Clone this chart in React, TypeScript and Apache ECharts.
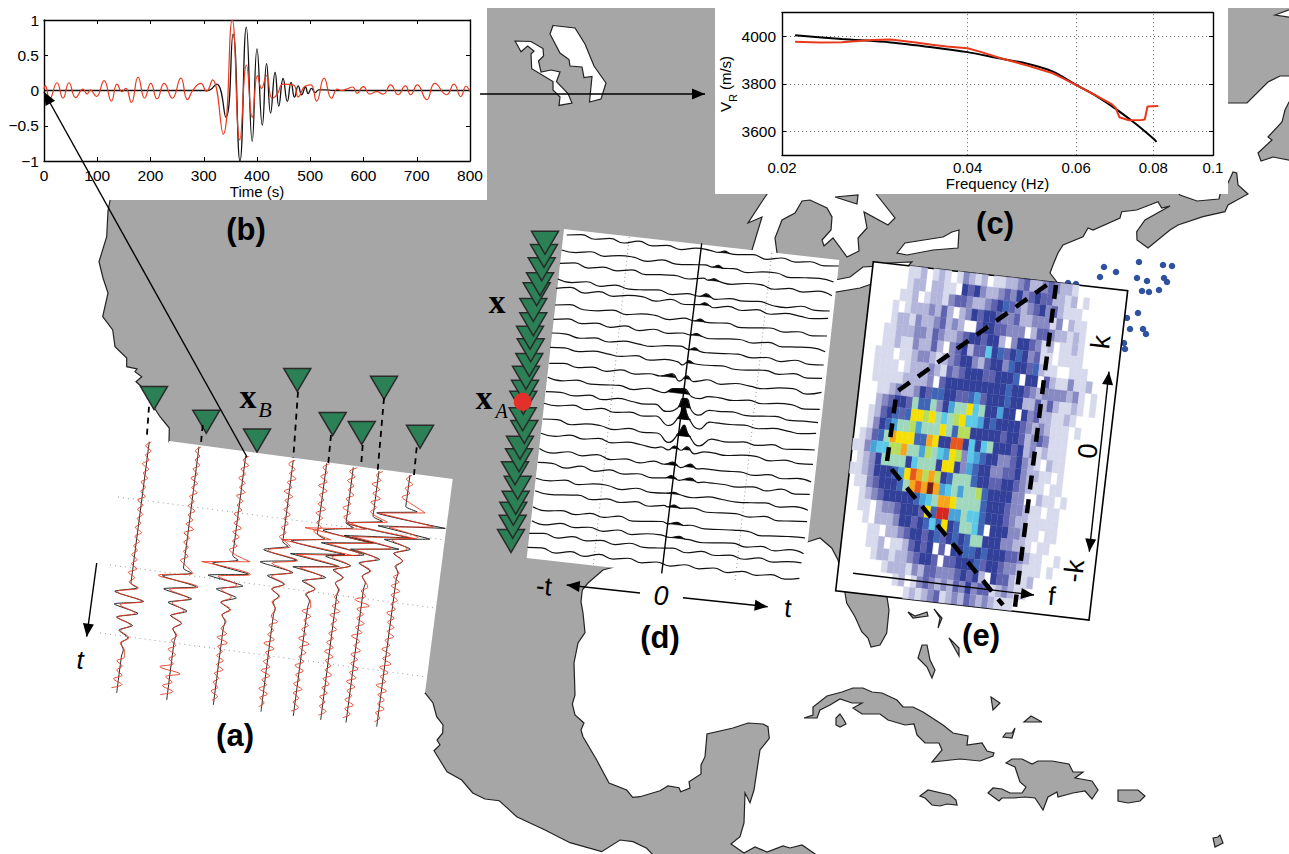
import React, { useEffect, useRef } from "react";
import * as echarts from "echarts";

/* ---------- panel (b): time series, [time s, amplitude] ---------- */
const redWave = [[0,0.02],[2.5,0.07],[10.6,-0.12],[24.4,0.11],[35.7,-0.11],[47,0.11],[59.5,-0.1],[73.3,0.02],[80.8,-0.05],[87,0.01],[98.4,-0.085],[112.8,0.14],[126.6,-0.15],[137.2,0.09],[146.6,-0.015],[153.5,0.03],[164,-0.17],[176.7,0.19],[189,-0.11],[200.5,0.1],[212.4,-0.12],[225.6,0.1],[241,-0.11],[257,0.175],[269.4,-0.13],[280,0.01],[294.5,0.1],[305,-0.01],[316.4,0.15],[336.5,-0.62],[353.4,1.0],[367.8,-0.7],[380.3,0.36],[391,-0.38],[401,0.21],[408.5,0.03],[418,0.21],[428.6,-0.11],[438,-0.05],[449,0.09],[468,0.08],[477.4,-0.09],[490,0.06],[501,0.08],[512,-0.15],[526,0.175],[540,-0.11],[551,0.02],[559,0],[568,0.02],[579.6,0.05],[588,-0.04],[599.6,0.055],[612,-0.05],[624.7,-0.015],[637,-0.05],[651,0.08],[665,-0.06],[678.6,0.065],[688.6,-0.06],[701,0.08],[718.7,-0.13],[734,0.1],[756,-0.06],[770,0.09],[782.6,-0.085],[792.6,0.06],[800,-0.015]];
const blackWave = [[0,0],[150,0],[300,0],[308,0],[324,0.09],[341.5,-0.38],[355,0.8],[368,-1],[380,0.9],[391,-0.72],[400,0.59],[410,-0.49],[418,0.38],[425.5,-0.32],[434,0.255],[441,-0.22],[449,0.17],[457,-0.155],[464,0.115],[470.5,-0.095],[477.4,0.065],[484,-0.06],[491,0.05],[496,-0.045],[502.5,0.03],[509,-0.03],[516,0.01],[528,0.01],[545,0],[650,0],[800,0]];

/* ---------- panel (c): dispersion curves, [frequency Hz, velocity m/s] ---------- */
const blackDispersion = [[0.021,4005],[0.025,3989],[0.03,3975],[0.035,3955],[0.04,3934],[0.045,3908],[0.05,3885],[0.055,3852],[0.06,3796],[0.065,3746],[0.07,3690],[0.075,3631],[0.08,3570],[0.081,3556]];
const redDispersion = [[0.021,3978],[0.023,3975],[0.025,3976],[0.028,3985],[0.03,3987],[0.033,3975],[0.035,3965],[0.037,3958],[0.04,3950],[0.042,3935],[0.045,3910],[0.05,3878],[0.055,3845],[0.058,3815],[0.06,3795],[0.065,3748],[0.0685,3715],[0.0695,3700],[0.0705,3660],[0.073,3647],[0.0765,3648],[0.0775,3650],[0.0783,3705],[0.0815,3707]];
const freqTicks = [0.02, 0.04, 0.06, 0.08, 0.1];
const velocityTicks = [3600, 3800, 4000];

/* ---------- panel (a): eight stations ---------- */
const aTops = [[149.3,441.7],[199,446.7],[245.7,456],[293.3,460],[326.7,463.3],[353.3,467.3],[379,471],[410,475]];
const aBottoms = [[116.7,693],[166.7,700],[213.3,705],[261,711.7],[293.3,716],[320.7,720],[346,722.7],[376.7,726.7]];
const aOnsets = [0.563,0.48,0.4,0.325,0.28,0.22,0.18,0.125];
const aPacketTimes = [0.015,0.04,0.065,0.09,0.115,0.14,0.165,0.19,0.215,0.24,0.265];
const aBlackPackets = [
  [7,-15,15,-14,11,-10,7,-6,4,-2,1],
  [9,-20,15,-17,12,-11,9,-7,5,-3,1],
  [6,-19,18,-22,14,-12,9,-6,4,-3,1],
  [6,-18,16,-20,14,-11,7,-5,3,-2,1],
  [8,-25,30,-24,26,-20,14,-9,5,-3,1],
  [8,-22,28,-22,22,-16,10,-7,4,-3,1],
  [10,-25,40,-26,30,-18,12,-8,4,-3,1],
  [12,-28,42,-25,28,-17,10,-6,4,-2,1],
];
const aRedPackets = [
  [8,-13,14,-8,8,-9,5,-4,5,-3,2],
  [10,-24,17,-11,9,-7,6,-6,5,-3,2],
  [18,-30,20,-12,8,-7,4,-5,5,-3,2],
  [8,-14,17,-8,12,-7,7,-5,4,-3,1],
  [14,-35,38,-18,25,-13,10,-6,5,-4,2],
  [20,-40,30,-16,18,-10,9,-5,4,-3,2],
  [15,-25,45,-18,22,-12,9,-6,5,-3,2],
  [20,-26,30,-14,16,-9,7,-5,4,-3,2],
];
const aRedNoise = [
  [2,-3,3,-2,2,-4,3,-2,3,-3,2,-2,3,-4,2,-3,3,-2,2,-3,4,-2,3,-2,2,-3,3,-2,4,-4,3,-2,3,-4,2,-3,3,-5,4,-6],
  [2,-3,2,-2,3,-3,2,-4,3,-2,4,-3,2,-3,4,-2,3,-3,5,-4,2,-3,2,-2,3,-4,2,-3,2,-5,3,-3,2,-11,10,-4,3,-6,5,-7],
  [3,-2,4,-3,2,-4,3,-2,4,-4,3,-2,3,-4,2,-3,5,-3,4,-2,3,-4,3,-2,4,-5,6,-3,2,-3,4,-2,5,-3,2,-3,2,-4,3,-2],
  [2,-4,3,-2,5,-3,2,-5,4,-3,2,-3,4,-2,3,-3,2,-4,3,-2,5,-3,2,-3,4,-6,5,-3,2,-4,3,-5,4,-3,2,-5,4,-3,2,-3],
  [3,-3,2,-4,3,-5,4,-3,2,-3,5,-4,3,-2,3,-4,3,-5,4,-2,3,-3,2,-5,6,-3,4,-2,3,-5,4,-3,2,-4,5,-3,3,-2,4,-3],
  [4,-3,3,-4,3,-2,4,-3,2,-5,3,-3,4,-2,3,-3,5,-4,3,-2,4,-3,2,-4,3,-5,4,-3,3,-2,5,-3,4,-3,3,-4,2,-3,4,-3],
  [4,-2,3,-5,3,-3,5,-4,2,-3,4,-2,3,-7,8,-4,3,-3,5,-3,4,-6,3,-2,5,-4,3,-3,5,-3,4,-5,4,-3,2,-4,5,-3,3,-4],
  [2,-3,4,-3,2,-5,3,-3,3,-4,5,-3,4,-2,3,-5,3,-3,4,-2,5,-3,2,-5,4,-3,6,-5,4,-3,3,-6,5,-3,4,-2,5,-3,2,-3],
];
const aTriangles = [[154,398],[206.3,421.7],[257,440.5],[297.3,380],[332.7,424],[361.7,433],[384,387.7],[420,436.7]];
const aDashes = [[[149,406.7],[146.7,438]],[[202.7,425],[200.7,446]],[[298,391.7],[293.3,458]],[[331,435],[328.3,463]],[[362.7,445],[361,466.7]],[[384,398],[377.7,470]],[[416.7,447.3],[414,475]]];
const aDotted = [[[118,497],[445,540]],[[110,565],[435,608]],[[100,633],[427,677]]];

/* ---------- panel (d): virtual-source gather ---------- */
const dStartX = [566.7,561.7,560,557.7,556,555,553.3,551.7,550,549.3,547.7,546,544,542.7,541,539.3,537.7,536,535,532.7,531.7,529.3,527.3];
const dStartY = [235,250,263.3,280,288.3,305,319.3,334,347.3,363.3,378.3,391.7,403.3,420,433.3,450,463.3,478.3,491.7,508.3,521.7,533.3,548.3];
const dNoise = [
  [0,2,-1,1.5,-1.5,2,-1,1,-1.5,1.5,1,-1,0,1.5,-1.5,1.5,-1,1,-1.5,0],
  [0,-1,1.5,-1.5,1,1,-1.5,1.5,-1,0,1.5,-1,1,-1.5,1,1.5,-1.5,0,1,-1],
  [0,2,-1.5,1,-1,1.5,-1.5,0,1,-1,1.5,0,-1.5,1,1.5,-1.5,1,-1,1.5,-1.5],
  [1,-1,1.5,-1.5,1.5,-1,0,1.5,-1.5,1,1,-1.5,1,0,1.5,-1,-1.5,1.5,-1,0],
  [0,2.5,-1.5,1.5,-1.5,1,1.5,-1.5,2,-1.5,1,-1.5,1.5,-1,1.5,-1.5,1,0,-1,1],
  [0,2,-1.5,-1,1.5,-1.5,1,1,-1.5,1.5,-1,0,1.5,-1.5,0,1.5,-1,1,-1.5,0],
  [0,2,-1,1,-1.5,1.5,-1.5,1.5,-1,1,2,-1.5,0,1,-1,1.5,-1.5,0,1,-1.5],
  [1,1.5,-1,1,-1.5,1,0,-1,1.5,2.5,-2,-1,0,1,-1,1,-1.5,1.5,-1,0],
  [0,1,-1,1,0,-1,1.5,-1.5,1,0,-1.5,0,1,-1,0,1.5,-1,1.5,-1.5,0],
  [0,1.5,-1,1,-1.5,1.5,-1,1,0,-1.5,1,1.5,-1.5,1,0,-1,1.5,2.5,-1.5,2],
  [1,-1,1.5,-1,0,1,-1.5,1.5,-1,1,-1.5,1.5,0,-1,1,-1,1,1.5,-1.5,0],
  [0,1,-1,1.5,-1.5,1.5,0,-1,1.5,-1.5,0,-1,0,1,-1,0,1.5,-1,0,0],
  [0,-1,1.5,-1.5,1.5,-1,1,-1.5,1,1,-1.5,0,0,0,1,-1,1,0,-1,1],
  [1,2,-1.5,1,1,-1.5,1.5,-1,0,1,-1.5,0,0,-1,1,-1,1.5,-1.5,0,1],
  [0,-1.5,1.5,-1,1.5,-1.5,1,0,-1.5,1.5,-1,0,0,-1,1,1.5,-1.5,1,-1,0],
  [1.5,-1.5,1.5,-1,2,-1.5,1,-1.5,2,-1.5,1,-1,0,0,1,-1,1.5,-1,1,-1],
  [1,1.5,-1.5,2,-1.5,1.5,-1,1,-1.5,1.5,-1,1,0,0,-1,1,-1.5,2,-1.5,0],
  [0,-1,1.5,-1.5,1,1,-1.5,1.5,-1,0,1.5,-1.5,1,0,-1,0,1.5,-1,1,-1],
  [1,-1,0,1.5,-1.5,1,-1,1.5,-1.5,1,0,1.5,-1,0,1,-1,1.5,-1.5,0,1],
  [1.5,-1,1,-1.5,1.5,-1,2,-1.5,0,1.5,-1.5,1,-1,0,1,1.5,-1.5,0,1,1.5],
  [1,-1.5,1.5,-1,1,-1.5,1.5,-1.5,1,1.5,-1,0,-1.5,0,1.5,-1,1.5,-1.5,1.5,-1],
  [0,1.5,-1.5,1.5,-1,1,-1.5,1.5,-1,0,1.5,-1.5,1.5,-1,1,-1.5,1.5,-1,1,1.5],
  [1,2,-1.5,1.5,-1.5,2,-1,1.5,-1.5,1,-1.5,1.5,-1,1.5,-1.5,1.5,-1,1.5,-1.5,1],
];
const dPulses = [
  [[0.56,0],[0.58,1.8],[0.6,0]],
  [[0.555,0],[0.575,2.6],[0.595,0]],
  [[0.545,0],[0.565,2],[0.585,0]],
  [[0.525,0],[0.545,3],[0.565,0]],
  [[0.527,0],[0.546,2.5],[0.565,0]],
  [[0.513,0],[0.533,2.5],[0.553,0]],
  [[0.505,0],[0.525,2],[0.545,0]],
  [[0.505,0],[0.525,2.5],[0.545,-0.5]],
  [[0.47,0],[0.488,-2.5],[0.5,0],[0.51,2.5],[0.53,0]],
  [[0.41,0],[0.45,3.5],[0.48,-3],[0.505,3],[0.53,-2],[0.56,0]],
  [[0.4,0],[0.43,-1],[0.46,4],[0.5,5],[0.53,-2],[0.56,-3],[0.59,0]],
  [[0.4,0],[0.445,-6],[0.485,-1],[0.5,9],[0.515,9],[0.535,-2],[0.565,-6],[0.6,0]],
  [[0.41,0],[0.46,-8],[0.495,2],[0.51,13],[0.53,2],[0.575,-8],[0.61,0]],
  [[0.42,0],[0.465,-8],[0.5,3],[0.515,11],[0.535,2],[0.58,-8],[0.62,0]],
  [[0.44,0],[0.47,-2],[0.49,2.5],[0.515,-1],[0.535,3],[0.565,-3],[0.6,0]],
  [[0.46,0],[0.49,3],[0.52,-1.5],[0.555,3],[0.58,-1],[0.6,0]],
  [[0.47,0],[0.49,3],[0.52,-1],[0.56,2.5],[0.59,-1],[0.61,0]],
  [[0.48,0],[0.505,1.5],[0.53,0]],
  [[0.49,0],[0.51,2.5],[0.535,0]],
  [[0.5,0],[0.53,2.5],[0.555,0]],
  [[0.51,0],[0.54,2],[0.565,0]],
  [],
  [],
];
const dTriangles = [[545,242.7],[544,256],[541.7,269.3],[540,284.3],[536.7,294.3],[533.3,310],[533.3,324.3],[530,337.7],[530.7,350.3],[529.3,365],[526,377.7],[525,391.7],[523.3,402.7],[522.7,419.3],[524.3,432],[520,447.7],[519,460.3],[515,473.3],[517.7,487.7],[515.7,502.7],[513.3,513.7],[512.7,526.7],[511,541]];
const dRedDot = [[522.7,401.7]];
const dCentre = [[701.7,243.3],[661.7,573.3]];
const dDotted = [[[629.3,237],[593.3,565]],[[771.7,253],[735,582]]];

/* ---------- panel (e): f-k spectrum, one letter per cell ---------- */
const heatLevels = ".abcdefghijklmno";
const heatColors = ["#ffffff","#d7d9ec","#b3b5da","#8789c2","#5f62af","#33409a","#3f66b6","#4aa3d8","#5cc8e8","#9fd8bd","#b8dc5c","#f6e003","#f7a51a","#e8571e","#d8271e","#7a2010"];
const heatRows = [
  "......aab.aba.acbab.aabbcdbbcdcbba",
  "......abb.bbaa.edecbbcdcecdeddbbab.a",
  ".....aab.abbacddcbbcdefdcbcdecdbaaa",
  "....a.abbbcbdb.bcedeedccdbbcccac.baa",
  "....abbacbbcdbcb..deeddccc.bddcbbaba",
  "...aabbbccbdcbbcdeedeeb.ceedcab.aaba",
  "...aabaacbbdb.cdebddhefdefecdaa.aaaa",
  "..aaa.aabccbabcdeecbdeecfeedfbaa..aaa",
  "..aaaa.abbbcbadcdeeeddeeef.ee.dbaacaab",
  "..aaaaabbbbc.deeeeeeeeeefeedcbccccbca.a",
  "...aabcbbcedffeeddfgdeeefeebbdbdbaaba.a",
  "...bcdeedifficegiikhieegee.ecdbbaaba",
  "..abdefdfkkjkihijkhhgefeeeedcbcbaaa.a",
  "..acefgiijgiiikifjjeeeeedeedbcdcaaa",
  ".abdfilkkkfflkeemmehehieeedebcabaaa",
  "aacghhjjliigjihgkjchgfeeccdecba.baa",
  ".abceiiiiehiiiekkecgfeeccddecbbaa.a",
  "aabceeefgkmljljefiiifeeddeedcbaa.aa",
  ".aacdeeefilmlolghigiijfeeeecc..baa.a",
  "..abcdeeeeefghillkiiiifeeedccbaa.aa",
  "..aa.bccdeeedkfnnggihhfeeedcbbaaaaa",
  "...a.bbbceedefhfkefiihf.eeeccbaa.aa",
  "....aa.bbcdeedefdefefiieeeccbba.aa",
  "....aab.aabdede.d.eeffefeeeddcbaa..a",
  ".....abbabbcdeed.ddeeefdeedccbaaa.a",
  ".......abbbacbddcccdedeb.eddbaab",
  ".........ab.acdcbcbdcecddabcbaa",
  "...........ababcdabcbdcbcbaaa",
];
const ePanel = [[873.3,261.7],[1127.7,290.7],[1089,620],[835.7,590.7]];
const eDashA = [[1056,285],[1015,606.7]];
const eDashB = [[1046.7,285],[896.7,391.7],[886.7,463.3],[1003,605]];

/* ---------- map ---------- */
const mainLand = [[110.7,197],[108,211],[106.7,236.7],[99,261.7],[103,278],[108,293],[102.7,316.7],[112.7,330],[115,346.7],[126.7,358],[126.7,366.7],[137,369],[135,371.7],[141.7,376.7],[136,381.7],[141.7,386.7],[148,398],[160,416.7],[169.3,428],[169,441.7],[425,693],[433,703],[436.7,716.7],[443,725],[442.7,733],[437,740],[440,745],[434,750.7],[447,771.7],[461.7,780],[472.7,793],[485,799],[499.3,800.7],[516.7,816.7],[545,830],[570,842.7],[601.7,851.7],[620,840],[633,841.7],[646.7,848.3],[654,856],[818,856],[802,845],[790,848],[783,846],[767,852],[755,847],[744,853],[731,844],[740,836.7],[744,823],[745,793],[750,802.7],[754,790],[760,750],[769.3,738.3],[768,726.7],[763,724],[748,723],[733,728],[707,734],[705,756.7],[701,765],[701,774],[689,781.7],[690,788],[680.7,791.7],[679,787.7],[668,786],[660,790.7],[640,796.7],[632.7,797.3],[626.7,790],[609,783],[596.7,760],[583,736.7],[581,730],[584,723],[575,715],[572.3,704],[575,695],[574,663],[578,643],[585,632.7],[583,613],[581,601.7],[582.3,590],[588,583],[603,570],[618,566],[800,545],[808,541.7],[820,538],[831.7,548],[838,560],[845,593],[846.7,603],[855,616.7],[861.7,631.7],[868,638],[871,647],[880,645],[886.7,633],[889,610],[886.7,595],[1056.7,281.7],[1050,273],[1053,265],[1058,253],[1063,245],[1083,236.7],[1088,228],[1093,230],[1120,218],[1121.7,211.7],[1136.7,210],[1158,201.7],[1161.7,208],[1170,206],[1145,220],[1136.7,231.7],[1137,240],[1148,248],[1170,230],[1178,225],[1203,216.7],[1225,211.7],[1228,205],[1248,194],[1238,185],[1236.7,173],[1233,172],[1228,183],[1226,183],[1226,-5],[480,-5],[480,197]];
const labrador = [[1224,-5],[1294,-5],[1294,76],[1280,76],[1268,82],[1247,103],[1224,103]];
const newfoundland = [[1294,102],[1289,102],[1285,110],[1282,122],[1268,137],[1272,140],[1258,153],[1261,161],[1273,157],[1294,161]];
const isles = [
  [[908,612],[913,618],[928,616],[927,612],[915,616]],
  [[934,609],[942,618],[938,628],[940,618]],
  [[949,638],[959,648],[959,656]],
  [[922,645],[927,645],[930,660],[935,670],[932,678],[927,667],[918,658]],
  [[991,697],[1000,703],[993,710]],
  [[1024,722],[1031,716],[1042,722]],
  [[1003,737],[1006,733],[1012,733],[1015,728],[1012,738]],
  [[804,718],[813,715],[813,707],[827,696],[842,692],[853,688],[863,688],[872,692],[882,693],[897,700],[903,707],[913,707],[923,712],[943,725],[953,733],[968,736],[967,745],[982,743],[987,751],[994,753],[993,756],[980,761],[960,759],[932,762],[942,750],[939,743],[925,743],[917,735],[914,724],[905,725],[888,720],[880,714],[862,714],[853,708],[862,703],[852,703],[840,699],[830,705],[820,710],[817,718]],
  [[840,714],[844,720],[846,724],[840,727],[836,725],[836,718]],
  [[920,796],[928,790],[950,795],[956,800],[957,805],[947,804],[940,806],[932,805],[925,798]],
  [[1006,763],[1012,759],[1022,759],[1032,764],[1038,761],[1052,761],[1069,764],[1073,772],[1083,772],[1075,778],[1092,781],[1098,790],[1092,799],[1085,791],[1073,793],[1058,797],[1057,792],[1048,797],[1043,810],[1035,798],[1025,797],[1013,798],[1002,798],[999,801],[988,793],[993,788],[1002,789],[1010,793],[1022,793],[1026,787],[1020,782],[1015,767]],
  [[1118,790],[1138,790],[1145,796],[1140,801],[1128,803],[1118,801]],
  [[1213,838],[1218,837],[1220,835],[1223,843],[1215,847]],
];
const waters = [
  [[763,200],[748,223],[762,217],[752,250],[752,262],[777,262],[777,253],[775,238],[782,220],[795,213],[802,201],[810,200],[827,208],[832,217],[831,230],[822,240],[824,246],[833,238],[847,257],[859,251],[858,238],[867,228],[864,212],[888,225],[895,218],[873,190],[770,190]],
  [[897,253],[905,243],[943,237],[952,232],[959,230],[958,248],[933,250],[907,255]],
  [[830,281],[850,277],[863,267],[880,266],[880,281],[860,288],[830,293]],
  [[887,263],[912,262],[908,266],[880,272]],
  [[1175,190],[1180,195],[1197,201],[1219,199],[1221,190]],
  [[553,25.5],[575,28],[585,44],[594,66],[606,83],[601,99],[589.5,102],[592,76.5],[584,77.5],[582,67],[570,66],[569,59.5],[560,53],[550,34]],
  [[515,41],[531,41.5],[543,48.6],[543.6,56],[538.5,61],[541,72],[551,70],[560,72],[556.5,81.6],[568,93.5],[572,103],[559,105.4],[560,97],[553,90],[553,81.6],[531.7,68.7],[531,54],[534,51],[527.6,46],[521,51.7]],
  [[1275,15],[1294,8],[1294,18]],
];
const lakeIsland = [[835,197],[858,195],[857,204]];
const blueDots = [[1104,267],[1116,272],[1100,277],[1139,262],[1163,265],[1172,266],[1137,278],[1147,281],[1164,278],[1167,282],[1142,291],[1149,292],[1159,290],[1068,283],[1076,284],[1138,313],[1127,318],[1130,329],[1143,329],[1146,334],[1124,343],[1125,349]];

/* ---------- white panels and arrows ---------- */
const whitePanels = [
  [[-2,-2],[487,-2],[487,200],[-2,200]],
  [[715,-2],[1228,-2],[1228,194],[715,194]],
  [[-2,-6],[1294,-6],[1294,8],[-2,8]],
  [[169,441],[452.7,479],[425,693],[300,715],[160,700]],
  [[564,229],[839.3,260],[802.5,589],[526.7,558]],
];
const arrows = [
  [247,457,44,92,0],
  [480,94,705,94,0],
  [96.7,563,86.7,636.7,0],
  [640,593,566.7,585,0],
  [683,597.7,767.7,606.7,0],
  [1109,371.7,1089.3,551.7,1],
  [853,573.3,1034,595,0],
];
const labels = [
  { t: "(a)", x: 235, y: 735, s: 31, w: "bold" },
  { t: "(b)", x: 246, y: 229, s: 31, w: "bold" },
  { t: "(c)", x: 995, y: 223, s: 31, w: "bold" },
  { t: "(d)", x: 660, y: 637, s: 31, w: "bold" },
  { t: "(e)", x: 981, y: 635, s: 31, w: "bold" },
  { t: "t", x: 80, y: 660, s: 26, i: 1 },
  { t: "-t", x: 544, y: 586, s: 26, r: -0.1 },
  { t: "0", x: 661, y: 596, s: 27, i: 1 },
  { t: "t", x: 788, y: 608, s: 26, r: -0.1 },
  { t: "k", x: 1100.7, y: 342, s: 27, r: 1.46 },
  { t: "0", x: 1088, y: 451, s: 27, r: 1.46 },
  { t: "-k", x: 1074, y: 571, s: 27, r: 1.46 },
  { t: "f", x: 1051.7, y: 596, s: 26, r: -0.1 },
  { t: "x", x: 497, y: 301, s: 34, w: "bold", f: "Liberation Serif" },
  { t: "x", x: 484, y: 397, s: 34, w: "bold", f: "Liberation Serif" },
  { t: "A", x: 501.7, y: 411, s: 20, i: 1, f: "Liberation Serif" },
  { t: "x", x: 248, y: 396, s: 34, w: "bold", f: "Liberation Serif" },
  { t: "B", x: 265, y: 409, s: 22, i: 1, f: "Liberation Serif" },
  { t: "V", x: 725, y: 107, s: 15, r: Math.PI / 2 },
  { t: "R", x: 733, y: 98, s: 11, r: Math.PI / 2 },
  { t: "(m/s)", x: 725, y: 73, s: 15, r: Math.PI / 2 },
];

const RED = "#e8391d";
const page = { xAxisIndex: 0, yAxisIndex: 0 };

const polygonSeries = (polys: number[][][], z: number, fill: string, stroke: string, lw: number) => ({
  type: "custom", ...page, z, silent: true, clip: false,
  data: polys.map((_, i) => [i, 0]),
  renderItem: (p: any, api: any) => ({
    type: "polygon",
    shape: { points: polys[p.dataIndex].map((q) => api.coord(q)) },
    style: { fill, stroke, lineWidth: lw },
  }),
});

const pathLine = (data: number[][], z: number, color: string, width: number, extra: any = {}) => ({
  type: "line", ...page, data, z, symbol: "none", silent: true, clip: false,
  lineStyle: { color, width, ...extra.line }, smooth: extra.smooth ?? false,
});

function aTrace(i: number, pts: number[][]) {
  const [tx, ty] = aTops[i];
  const [bx, by] = aBottoms[i];
  return pts.map(([s, a]) => [tx + (bx - tx) * s + a * 0.991, ty + (by - ty) * s + a * 0.133]);
}
function aBlack(i: number) {
  const on = aOnsets[i];
  const pk = aBlackPackets[i].map((a, k) => [on + aPacketTimes[k], a]);
  return aTrace(i, [[0, 0], [on - 0.03, 0], [on, 0], ...pk, [on + 0.29, 0], [1, 0]]);
}
function aRed(i: number) {
  const on = aOnsets[i];
  const gap = 0.28;
  const L = aRedNoise[i];
  const step = (1 - gap) / L.length;
  const pts: number[][] = [];
  L.forEach((a, k) => {
    const s0 = k * step;
    if (s0 < on) pts.push([s0, a]);
  });
  aRedPackets[i].forEach((a, k) => pts.push([on + aPacketTimes[k], a]));
  L.forEach((a, k) => {
    const s0 = k * step;
    if (s0 >= on) pts.push([s0 + gap, a]);
  });
  return aTrace(i, pts);
}
const dPoint = (i: number, t: number, a: number) => [dStartX[i] + 272 * t + a * 0.112, dStartY[i] + 31 * t - a * 0.994];
function dTrace(i: number) {
  const pulse = dPulses[i];
  const lo = pulse.length ? pulse[0][0] : 2;
  const hi = pulse.length ? pulse[pulse.length - 1][0] : -1;
  const pts: number[][] = [];
  dNoise[i].forEach((a, k) => {
    const t = k / 19;
    if (t < lo - 0.01 || t > hi + 0.01) pts.push([t, a]);
  });
  pts.push(...pulse);
  pts.sort((p, q) => p[0] - q[0]);
  return pts.map(([t, a]) => dPoint(i, t, a));
}
function dFills() {
  const out: number[][][] = [];
  dPulses.forEach((pulse, i) => {
    pulse.forEach((p, k) => {
      if (p[1] < 1.5 || k === 0 || k === pulse.length - 1) return;
      const prev = pulse[k - 1];
      const next = pulse[k + 1];
      if (next[1] >= p[1] && next[1] > 1.5) return;
      const first = prev[1] >= 1.5 ? pulse[k - 2] : prev;
      const a = first[1] < 0 ? first[0] + (prev[1] >= 1.5 ? prev[0] - first[0] : p[0] - first[0]) * (-first[1]) / ((prev[1] >= 1.5 ? prev[1] : p[1]) - first[1]) : first[0];
      const b = next[1] < 0 ? p[0] + (next[0] - p[0]) * p[1] / (p[1] - next[1]) : next[0];
      const poly = [dPoint(i, a, 0)];
      if (prev[1] >= 1.5) poly.push(dPoint(i, prev[0], prev[1]));
      poly.push(dPoint(i, p[0], p[1]), dPoint(i, b, 0));
      out.push(poly);
    });
  });
  return out;
}

const heatCells: number[][] = [];
heatRows.forEach((row, r) => {
  row.split("").forEach((ch, c) => {
    const level = heatLevels.indexOf(ch);
    if (level > 0) heatCells.push([c, r, level]);
  });
});

function heatCorner(c: number, r: number) {
  const [tl, tr, , bl] = ePanel;
  const u = c / 42;
  const v = r / 28;
  return [tl[0] + (tr[0] - tl[0]) * u + (bl[0] - tl[0]) * v, tl[1] + (tr[1] - tl[1]) * u + (bl[1] - tl[1]) * v];
}

const axisText = { color: "#000", fontSize: 15.5, fontFamily: "Liberation Sans" };
const boxLine = { show: true, onZero: false, lineStyle: { color: "#000", width: 1.4 } };
const inTick = { show: true, inside: true, length: 4, lineStyle: { color: "#000", width: 1 } };
const velTick = { ...inTick, customValues: velocityTicks };

export default function App() {
  const ref = useRef<HTMLDivElement>(null);
  useEffect(() => {
    document.body.style.margin = "0";
    const chart = echarts.init(ref.current as HTMLDivElement, undefined, { renderer: "svg" });
    const series: any[] = [
      polygonSeries([mainLand, labrador, newfoundland, ...isles], 1, "#a6a6a6", "#222", 1.2),
      polygonSeries(waters, 1, "#ffffff", "#222", 1.2),
      polygonSeries([lakeIsland], 1, "#a6a6a6", "#222", 1.2),
      {
        type: "scatter", ...page, z: 2, silent: true, symbolSize: 6.5, data: blueDots,
        itemStyle: { color: "#2f52a0", opacity: 1 },
      },
      polygonSeries(whitePanels, 3, "#ffffff", "transparent", 0),
      polygonSeries([ePanel], 3, "#ffffff", "#000", 1.6),
      {
        type: "custom", ...page, z: 4, silent: true, clip: false,
        data: heatCells,
        renderItem: (p: any, api: any) => {
          const [c, r, level] = heatCells[p.dataIndex];
          return {
            type: "polygon",
            shape: { points: [heatCorner(c, r), heatCorner(c + 1, r), heatCorner(c + 1, r + 1), heatCorner(c, r + 1)].map((q) => api.coord(q)) },
            style: { fill: heatColors[level], stroke: heatColors[level], lineWidth: 0.3 },
          };
        },
      },
    ];
    aDotted.forEach((d) => series.push(pathLine(d, 4, "#999", 1, { line: { type: [1, 4] } })));
    dDotted.forEach((d) => series.push(pathLine(d, 4, "#999", 1, { line: { type: [1, 3] } })));
    aTops.forEach((_, i) => {
      series.push(pathLine(aBlack(i), 5, "#111", 0.9, { smooth: 0.2 }));
      series.push(pathLine(aRed(i), 5, RED, 0.9, { smooth: 0.35 }));
    });
    dStartX.forEach((_, i) => series.push(pathLine(dTrace(i), 5, "#111", 1.2, { smooth: 0.5 })));
    series.push(polygonSeries(dFills(), 5, "#000", "#000", 0.5));
    series.push(pathLine(dCentre, 5, "#000", 1.4));
    aDashes.forEach((d) => series.push(pathLine(d, 7, "#000", 1.8, { line: { type: [6, 5] } })));
    series.push(pathLine(eDashA, 7, "#000", 4.5, { line: { type: [14, 10] } }));
    series.push(pathLine(eDashB, 7, "#000", 4.5, { line: { type: [14, 10] } }));
    series.push({
      type: "scatter", ...page, z: 6, silent: true, symbol: "triangle", symbolRotate: 180, symbolSize: [27, 23],
      data: [...aTriangles, ...[...dTriangles].reverse()],
      itemStyle: { color: "#2b8055", borderColor: "#2a2a2a", borderWidth: 1.5, opacity: 1 },
    });
    series.push({
      type: "scatter", ...page, z: 6, silent: true, symbolSize: 18, data: dRedDot,
      itemStyle: { color: "#e4302a", opacity: 1 },
    });
    series.push({
      type: "custom", ...page, z: 8, silent: true, clip: false,
      data: arrows.map((_, i) => [i, 0]),
      renderItem: (p: any, api: any) => {
        const [x1, y1, x2, y2, both] = arrows[p.dataIndex];
        const a = api.coord([x1, y1]);
        const b = api.coord([x2, y2]);
        const head = (tip: number[], from: number[]) => {
          const dx = tip[0] - from[0];
          const dy = tip[1] - from[1];
          const n = Math.hypot(dx, dy);
          const ux = dx / n;
          const uy = dy / n;
          return {
            type: "polygon",
            shape: { points: [tip, [tip[0] - 13 * ux - 5.5 * uy, tip[1] - 13 * uy + 5.5 * ux], [tip[0] - 13 * ux + 5.5 * uy, tip[1] - 13 * uy - 5.5 * ux]] },
            style: { fill: "#000" },
          };
        };
        const children: any[] = [
          { type: "line", shape: { x1: a[0], y1: a[1], x2: b[0], y2: b[1] }, style: { stroke: "#000", lineWidth: 1.4 } },
          head(b, a),
        ];
        if (both) children.push(head(a, b));
        return { type: "group", children };
      },
    });
    series.push({
      type: "line", xAxisIndex: 1, yAxisIndex: 1, z: 6, data: blackWave, symbol: "none", silent: true, smooth: 0.5,
      lineStyle: { color: "#111", width: 1.3 },
    });
    series.push({
      type: "line", xAxisIndex: 1, yAxisIndex: 1, z: 6, data: redWave, symbol: "none", silent: true, smooth: 0.5,
      lineStyle: { color: RED, width: 1.2 },
    });
    const dotted = { color: "#666", width: 1, type: [1, 3] };
    series.push({
      type: "line", xAxisIndex: 3, yAxisIndex: 3, z: 6, data: blackDispersion, symbol: "none", silent: true, smooth: 0.3,
      lineStyle: { color: "#000", width: 2 },
      markLine: {
        silent: true, symbol: "none", animation: false,
        data: [
          ...freqTicks.map((f) => ({
            xAxis: f,
            lineStyle: f === 0.02 || f === 0.1 ? { color: "rgba(0,0,0,0)" } : dotted,
            label: { show: true, position: "start", distance: 5, formatter: () => String(f), color: "#000", fontSize: 15, fontFamily: "Liberation Sans" },
          })),
          ...velocityTicks.map((v) => ({ yAxis: v, lineStyle: dotted, label: { show: false } })),
        ],
      },
    });
    series.push({
      type: "line", xAxisIndex: 3, yAxisIndex: 3, z: 6, data: redDispersion, symbol: "none", silent: true,
      lineStyle: { color: RED, width: 2 },
    });

    const hiddenX = { type: "value", show: true, axisLabel: { show: false }, axisTick: { show: false }, splitLine: { show: false } };
    chart.setOption({
      animation: false,
      textStyle: { fontFamily: "Liberation Sans" },
      grid: [
        { left: 0, top: 0, width: 1289, height: 854, show: false },
        { left: 44, top: 20, width: 426, height: 141, show: false },
        { left: 782, top: 12.7, width: 431, height: 142.5, show: false },
      ],
      xAxis: [
        { type: "value", gridIndex: 0, min: 0, max: 1289, show: false },
        {
          type: "value", gridIndex: 1, min: 0, max: 800, interval: 100, position: "bottom", z: 6,
          axisLine: boxLine, axisTick: inTick, splitLine: { show: false },
          axisLabel: { ...axisText, margin: 6, showMinLabel: true, showMaxLabel: true },
          name: "Time (s)", nameLocation: "middle", nameGap: 18, nameTextStyle: { ...axisText, fontSize: 15 },
        },
        {
          type: "value", gridIndex: 1, min: 0, max: 800, interval: 100, position: "top", z: 6,
          axisLine: boxLine, axisTick: inTick, splitLine: { show: false }, axisLabel: { show: false },
        },
        {
          type: "log", gridIndex: 2, min: 0.02, max: 0.1, logBase: 10, position: "bottom", z: 6,
          axisLine: boxLine, axisTick: { show: false }, splitLine: { show: false }, minorTick: { show: false }, axisLabel: { show: false },
          name: "Frequency (Hz)", nameLocation: "middle", nameGap: 21, nameTextStyle: { ...axisText, fontSize: 15 },
        },
        { ...hiddenX, gridIndex: 2, min: 0, max: 1, position: "top", z: 6, axisLine: boxLine },
      ],
      yAxis: [
        { type: "value", gridIndex: 0, min: 0, max: 854, inverse: true, show: false },
        {
          type: "value", gridIndex: 1, min: -1, max: 1, interval: 0.5, position: "left", z: 6,
          axisLine: boxLine, axisTick: inTick, splitLine: { show: false },
          axisLabel: { ...axisText, margin: 5, formatter: (v: number) => (v < 0 ? "\u2212" + Math.abs(v) : String(v)) },
        },
        {
          type: "value", gridIndex: 1, min: -1, max: 1, interval: 0.5, position: "right", z: 6,
          axisLine: boxLine, axisTick: inTick, splitLine: { show: false }, axisLabel: { show: false },
        },
        {
          type: "value", gridIndex: 2, min: 3500, max: 4100, interval: 100, position: "left", z: 6,
          axisLine: boxLine, axisTick: velTick, splitLine: { show: false },
          axisLabel: { ...axisText, margin: 6, formatter: (v: number) => (velocityTicks.includes(v) ? String(v) : "") },
        },
        {
          type: "value", gridIndex: 2, min: 3500, max: 4100, interval: 100, position: "right", z: 6,
          axisLine: boxLine, axisTick: velTick, splitLine: { show: false }, axisLabel: { show: false },
        },
      ],
      graphic: labels.map((l: any) => ({
        type: "text", x: l.x, y: l.y, rotation: l.r ?? 0, z: 100, silent: true,
        style: {
          text: l.t, fill: "#000", align: "center", verticalAlign: "middle",
          fontSize: l.s, fontWeight: l.w ?? "normal", fontStyle: l.i ? "italic" : "normal",
          fontFamily: l.f ?? "Liberation Sans",
        },
      })),
      series,
    });
    return () => chart.dispose();
  }, []);
  return <div ref={ref} style={{ width: 1289, height: 854 }} />;
}
